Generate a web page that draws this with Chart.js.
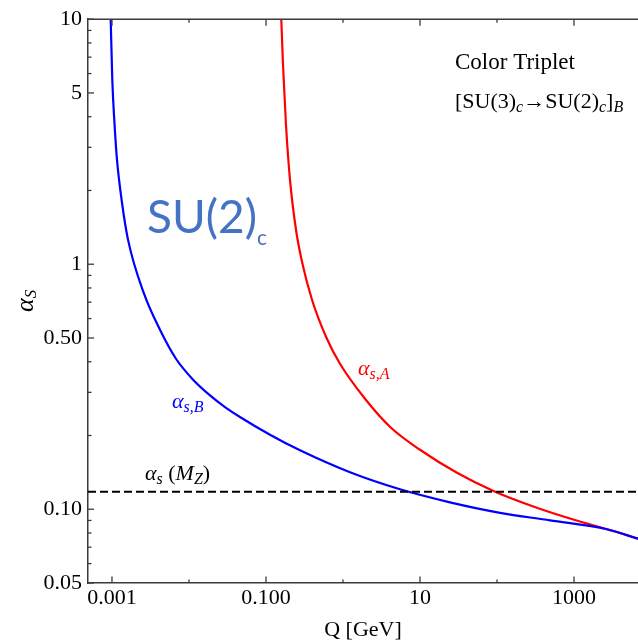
<!DOCTYPE html>
<html><head><meta charset="utf-8">
<script src="https://cdn.jsdelivr.net/npm/chart.js@4"></script>
<style>html,body{margin:0;padding:0;background:#fff}#wrap{width:638px;height:641px}</style>
</head><body><div id="wrap"><canvas id="c" width="638" height="641"></canvas></div>
<script>
// ---- data ----
const qB =     [0.00095, 0.000962, 0.001009, 0.001078, 0.001161, 0.001349, 0.001614, 0.002606, 0.0042, 0.006776, 0.0113, 0.01875, 0.02934, 0.04595, 0.1127, 0.2767, 1.233, 5.50, 24.5, 109.4, 487, 2685, 6780];
const alphaB = [11.0, 10.0, 5.66, 3.746, 2.67, 1.782, 1.26, 0.758, 0.540, 0.4114, 0.338, 0.2916, 0.2613, 0.2380, 0.2014, 0.1739, 0.1415, 0.1206, 0.1067, 0.0967, 0.0901, 0.0829, 0.0758];
const qA =     [0.156, 0.158, 0.1663, 0.1818, 0.2049, 0.2453, 0.2935, 0.3958, 0.6015, 0.9142, 1.931, 4.202, 10, 30.23, 91.4, 302.4, 1000, 2685, 6780];
const alphaA = [11.5, 10.0, 6.52, 3.71, 2.213, 1.383, 1.024, 0.716, 0.506, 0.3925, 0.2825, 0.2151, 0.1749, 0.1409, 0.1185, 0.1024, 0.0906, 0.0829, 0.0758];
const alphaMZ = 0.118;

const xTickValues = [0.001, 0.1, 10, 1000];
const xTickLabels = ['0.001', '0.100', '10', '1000'];
const xMinorTicks = [0.01, 1, 100];
const yTickValues = [0.05, 0.1, 0.5, 1, 5, 10];
const yTickLabels = ['0.05', '0.10', '0.50', '1', '5', '10'];
const yMinorTicks = [0.06, 0.07, 0.08, 0.09, 0.2, 0.3, 0.4, 0.6, 0.7, 0.8, 0.9, 2, 3, 4, 6, 7, 8, 9];
const xRange = [0.000488, 6780];
const yRange = [0.05, 10];

const SERIF = '"Liberation Serif", "Times New Roman", serif';
const AXIS = '#3a3a3a';

function pts(xs, ys) { return xs.map((x, i) => ({x: x, y: ys[i]})); }
function labelFor(vals, labs) {
  return v => { const i = vals.findIndex(t => Math.abs(t - v) / t < 1e-6); return i >= 0 ? labs[i] : ''; };
}

function drawRuns(ctx, x, y, runs) {
  ctx.textBaseline = 'alphabetic';
  ctx.textAlign = 'left';
  for (const r of runs) {
    ctx.font = r.f;
    ctx.fillStyle = r.c;
    ctx.fillText(r.t, x + (r.dx || 0), y + (r.dy || 0));
    x += ctx.measureText(r.t).width + (r.dx || 0);
  }
}

const decor = {
  id: 'decor',
  afterDraw(chart) {
    const ctx = chart.ctx, a = chart.chartArea;
    const xs = chart.scales.x, ys = chart.scales.y;
    ctx.save();
    // top frame line
    ctx.strokeStyle = AXIS; ctx.lineWidth = 1.5;
    ctx.beginPath(); ctx.moveTo(a.left, a.top); ctx.lineTo(a.right + 2, a.top); ctx.stroke();
    // inward ticks
    ctx.lineWidth = 1.3;
    const tx = (v, len) => {
      const p = xs.getPixelForValue(v);
      ctx.beginPath(); ctx.moveTo(p, a.bottom); ctx.lineTo(p, a.bottom - len); ctx.stroke();
      ctx.beginPath(); ctx.moveTo(p, a.top); ctx.lineTo(p, a.top + len); ctx.stroke();
    };
    xTickValues.forEach(v => tx(v, 6.5));
    xMinorTicks.forEach(v => tx(v, 3.5));
    const ty = (v, len) => {
      const p = ys.getPixelForValue(v);
      ctx.beginPath(); ctx.moveTo(a.left, p); ctx.lineTo(a.left + len, p); ctx.stroke();
    };
    yTickValues.forEach(v => ty(v, 6));
    yMinorTicks.forEach(v => ty(v, 3.5));

    // annotations
    drawRuns(ctx, 455, 69, [{t: 'Color Triplet', f: '23px ' + SERIF, c: '#000'}]);
    drawRuns(ctx, 455, 108, [
      {t: '[SU(3)', f: '22px ' + SERIF, c: '#000'},
      {t: 'c', f: 'italic 16px ' + SERIF, c: '#000', dy: 4},
      {t: '\u2192SU(2)', f: '22px ' + SERIF, c: '#000'},
      {t: 'c', f: 'italic 16px ' + SERIF, c: '#000', dy: 4},
      {t: ']', f: '22px ' + SERIF, c: '#000'},
      {t: 'B', f: 'italic 16px ' + SERIF, c: '#000', dy: 4}
    ]);
    drawRuns(ctx, 147, 233, [
      {t: 'SU(2)', f: '46px Lato, "Open Sans", sans-serif', c: '#4472C4'},
      {t: 'c', f: '21px Lato, "Open Sans", sans-serif', c: '#4472C4', dy: 12}
    ]);
    drawRuns(ctx, 358, 375, [
      {t: '\u03b1', f: 'italic 22px ' + SERIF, c: '#ff0000'},
      {t: 's,A', f: 'italic 16px ' + SERIF, c: '#ff0000', dy: 4}
    ]);
    drawRuns(ctx, 172, 408, [
      {t: '\u03b1', f: 'italic 22px ' + SERIF, c: '#0000ff'},
      {t: 's,B', f: 'italic 16px ' + SERIF, c: '#0000ff', dy: 4}
    ]);
    drawRuns(ctx, 145, 480, [
      {t: '\u03b1', f: 'italic 22px ' + SERIF, c: '#000'},
      {t: 's', f: 'italic 16px ' + SERIF, c: '#000', dy: 4},
      {t: ' (', f: '22px ' + SERIF, c: '#000'},
      {t: 'M', f: 'italic 22px ' + SERIF, c: '#000'},
      {t: 'Z', f: 'italic 16px ' + SERIF, c: '#000', dy: 4},
      {t: ')', f: '22px ' + SERIF, c: '#000'}
    ]);
    // y axis title (rotated)
    ctx.translate(33, 312);
    ctx.rotate(-Math.PI / 2);
    drawRuns(ctx, 0, 0, [
      {t: '\u03b1', f: 'italic 26px ' + SERIF, c: '#000'},
      {t: 'S', f: 'italic 17px ' + SERIF, c: '#000', dy: 3}
    ]);
    ctx.restore();
  }
};

new Chart(document.getElementById('c'), {
  type: 'scatter',
  data: {
    datasets: [
      {label: 'alpha_s,B', data: pts(qB, alphaB), showLine: true, borderColor: '#0000ff', borderWidth: 2.2,
       pointRadius: 0, cubicInterpolationMode: 'monotone', clip: 0, order: 2},
      {label: 'alpha_s,A', data: pts(qA, alphaA), showLine: true, borderColor: '#ff0000', borderWidth: 2.2,
       pointRadius: 0, cubicInterpolationMode: 'monotone', clip: 0, order: 3},
      {label: 'alpha_s(MZ)', data: pts(xRange, [alphaMZ, alphaMZ]), showLine: true, borderColor: '#000',
       borderWidth: 2, borderDash: [8, 4], pointRadius: 0, clip: 0, order: 1}
    ]
  },
  options: {
    responsive: false,
    devicePixelRatio: 1,
    animation: false,
    layout: {padding: {top: 19, right: 0, bottom: 0, left: 0}},
    plugins: {legend: {display: false}, tooltip: {enabled: false}},
    scales: {
      x: {
        type: 'logarithmic', position: 'bottom', min: xRange[0], max: xRange[1],
        grid: {display: false, drawTicks: false},
        border: {display: true, color: AXIS, width: 1.5},
        afterBuildTicks: s => { s.ticks = xTickValues.map(v => ({value: v})); },
        afterFit: s => { s.height = 58; },
        ticks: {autoSkip: false, maxRotation: 0, color: '#000', padding: 2,
                font: {family: SERIF, size: 22}, callback: labelFor(xTickValues, xTickLabels)},
        title: {display: true, text: 'Q [GeV]', color: '#000', font: {family: SERIF, size: 22, lineHeight: 1},
                padding: {top: 0, bottom: 0}}
      },
      y: {
        type: 'logarithmic', position: 'left', min: yRange[0], max: yRange[1],
        grid: {display: false, drawTicks: false},
        border: {display: true, color: AXIS, width: 1.5},
        afterBuildTicks: s => { s.ticks = yTickValues.map(v => ({value: v})); },
        afterFit: s => { s.width = 88; },
        ticks: {autoSkip: false, color: '#000', padding: 6,
                font: {family: SERIF, size: 22}, callback: labelFor(yTickValues, yTickLabels)}
      }
    }
  },
  plugins: [decor]
});
</script>
</body></html>
